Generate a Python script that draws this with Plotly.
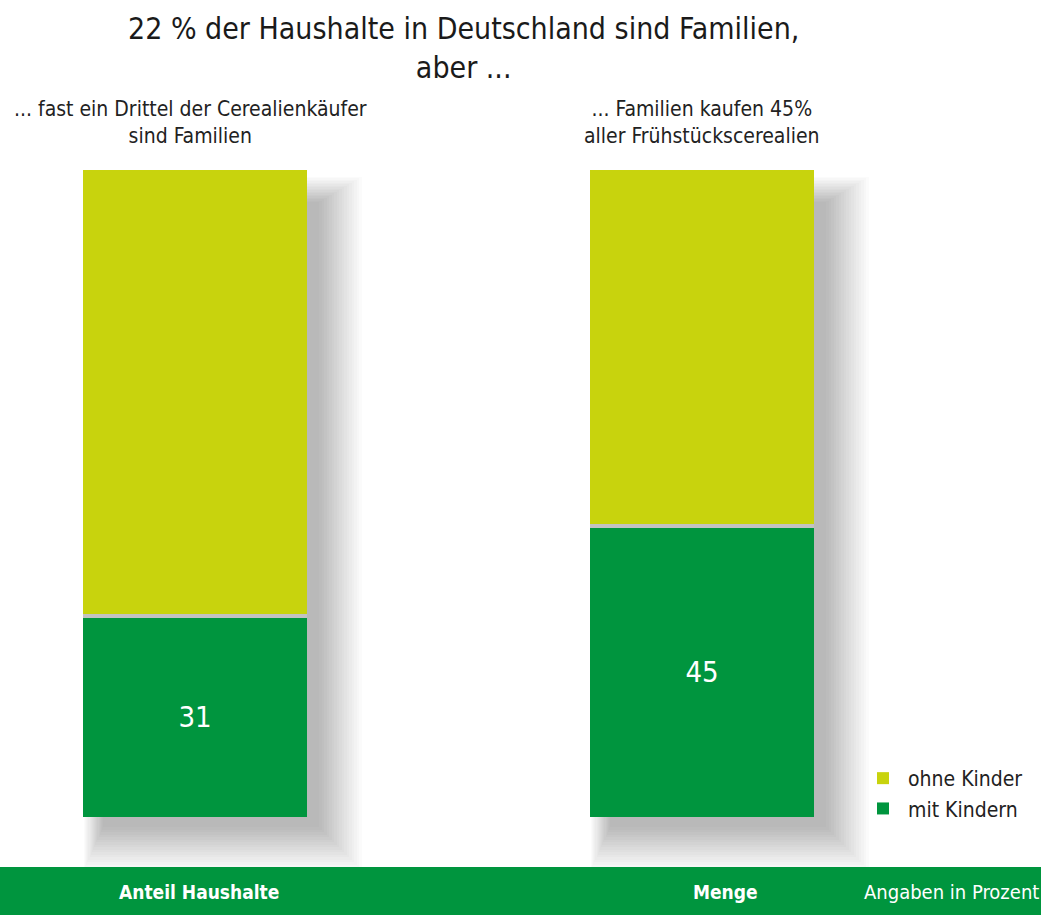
import plotly.graph_objects as go

categories = ["Anteil Haushalte", "Menge"]
mit_kindern = [31, 45]
ohne_kindern = [69, 55]
subtitles = ["... fast ein Drittel der Cerealienkäufer<br>sind Familien",
             "... Familien kaufen 45%<br>aller Frühstückscerealien"]
title_text = "22 % der Haushalte in Deutschland sind Familien,<br>aber ..."
note_text = "Angaben in Prozent"

W, H = 1041, 915
TOP, ZERO, BAND = 170, 817, 867          # pixel rows: value 100, value 0, band top
ML, MR, MT, MB = 0, 0, TOP, H - BAND
plot_w, plot_h = W - ML - MR, H - MT - MB
uy = 100.0 / (ZERO - TOP)                 # data units per pixel (y)
y_lo = -(BAND - ZERO) * uy
px_per_cat = 507.0
ux = 1.0 / px_per_cat
x_lo = -195.0 / px_per_cat
x_hi = x_lo + plot_w / px_per_cat
bar_w = 224 * ux

def py(p):  # pixel row -> paper y
    return (H - MB - p) / plot_h

FONT = "Liberation Sans Narrow, DejaVu Sans Condensed, Roboto, sans-serif"
YELLOW = "#c8d30d"
GREEN = "#00953e"

totals = [m + o for m, o in zip(mit_kindern, ohne_kindern)]
fig = go.Figure()

# soft drop shadow (offset to the lower right), built as layered translucent bars
for k in range(18):
    e = 2.5 * k
    left, right = 20 - 0.45 * e, 12 + e          # px relative to bar left / right edge
    top, bottom = 32 - 0.6 * e, 10 + e          # px below bar top / below bar base
    fig.add_trace(go.Bar(
        x=categories, y=[t - top * uy + bottom * uy for t in totals],
        base=[-bottom * uy] * len(totals),
        width=bar_w + (right - left) * ux, offset=-bar_w / 2 + left * ux,
        marker=dict(color="rgba(0,0,0,0.017)", line=dict(width=0)),
        showlegend=False, hoverinfo="skip"))

fig.add_trace(go.Bar(
    x=categories, y=ohne_kindern, base=mit_kindern, name="ohne Kinder",
    width=bar_w, offset=-bar_w / 2,
    marker=dict(color=YELLOW, line=dict(width=0)), legendrank=1))
fig.add_trace(go.Bar(
    x=categories, y=mit_kindern, base=[0] * len(mit_kindern), name="mit Kindern",
    width=bar_w, offset=-bar_w / 2,
    text=[str(v) for v in mit_kindern], textposition="inside",
    insidetextanchor="middle", textangle=0,
    textfont=dict(color="white", size=29, family=FONT),
    marker=dict(color=GREEN, line=dict(width=0)), legendrank=2))
# thin grey separator between the two segments
fig.add_trace(go.Bar(
    x=categories, y=[4 * uy] * len(mit_kindern), base=[m - 2 * uy for m in mit_kindern],
    width=bar_w, offset=-bar_w / 2,
    marker=dict(color="#c2c2c2", line=dict(width=0)),
    showlegend=False, hoverinfo="skip"))

annotations = [dict(x=463 / W, xref="paper", y=py(9), yref="paper",
                    xanchor="center", yanchor="top", text=title_text, showarrow=False,
                    align="center", font=dict(family=FONT, size=30, color="#1a1a1a"))]
for cat, sub, sh in zip(categories, subtitles, [-5, 0]):
    annotations.append(dict(x=cat, xref="x", y=py(150), yref="paper",
                            xanchor="center", yanchor="bottom", xshift=sh,
                            text=sub, showarrow=False, align="center",
                            font=dict(family=FONT, size=21, color="#222")))
for cat, sh in zip(categories, [4, 23]):
    annotations.append(dict(x=cat, xref="x", y=py(892), yref="paper",
                            xanchor="center", yanchor="middle", xshift=sh,
                            text="<b>" + cat + "</b>", showarrow=False,
                            font=dict(family=FONT, size=19, color="white")))
annotations.append(dict(x=862 / W, xref="paper", y=py(892), yref="paper",
                        xanchor="left", yanchor="middle", text=note_text, showarrow=False,
                        font=dict(family=FONT, size=20, color="white")))

fig.update_layout(
    width=W, height=H, autosize=False,
    margin=dict(l=ML, r=MR, t=MT, b=MB, pad=0),
    paper_bgcolor="white", plot_bgcolor="white",
    barmode="overlay", bargap=0,
    xaxis=dict(type="category", range=[x_lo, x_hi], visible=False, fixedrange=True),
    yaxis=dict(range=[y_lo, 100], visible=False, fixedrange=True),
    showlegend=True,
    legend=dict(x=858 / W, xanchor="left", y=py(758), yanchor="top",
                bgcolor="rgba(0,0,0,0)", itemwidth=40, tracegroupgap=0,
                font=dict(family=FONT, size=21, color="#222"), traceorder="normal"),
    shapes=[dict(type="rect", xref="paper", yref="paper", x0=0, x1=1,
                 y0=py(BAND), y1=py(H + 5),
                 fillcolor=GREEN, line=dict(width=0), layer="below")],
    annotations=annotations,
)

fig.write_html("out.html", config={"displayModeBar": False},
               post_script="document.body.style.margin='0';")
